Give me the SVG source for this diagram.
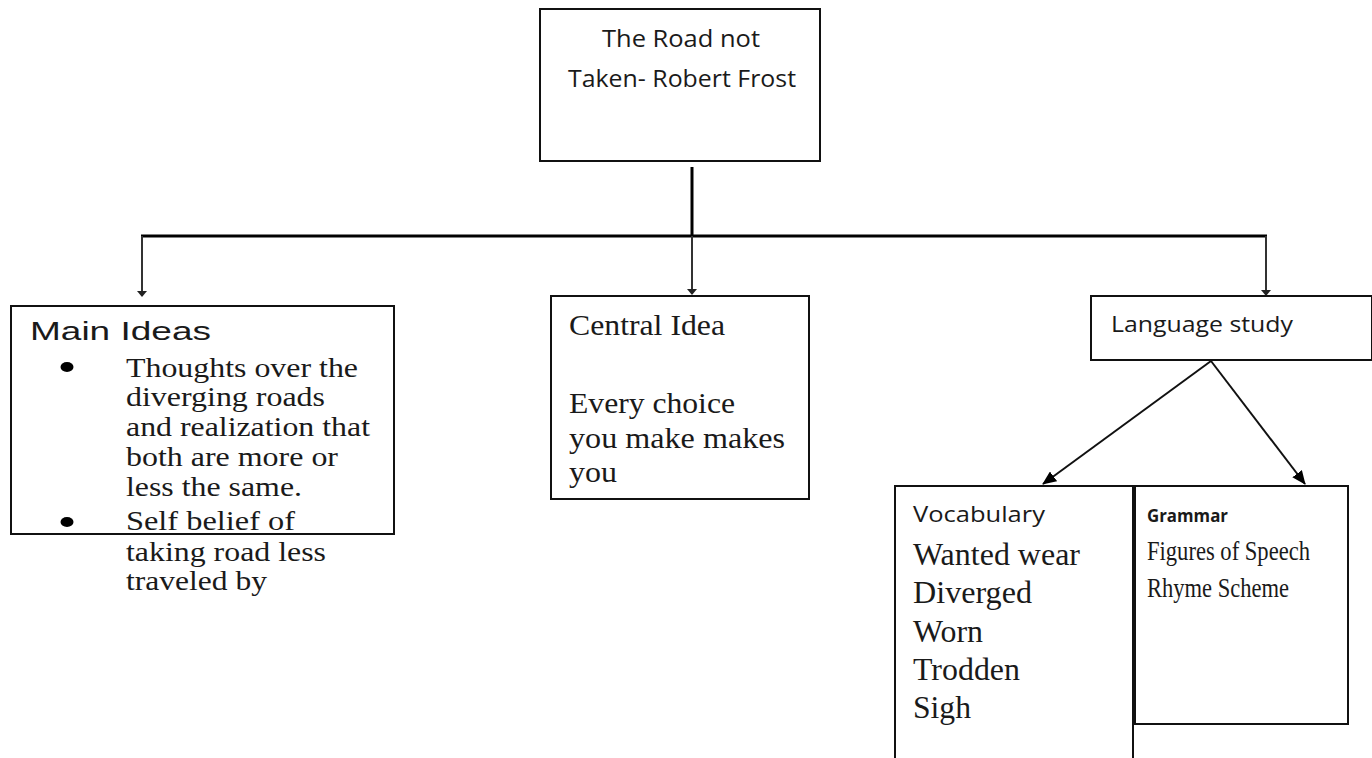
<svg xmlns="http://www.w3.org/2000/svg" width="1372" height="758" viewBox="0 0 1372 758">
  <style>
    .box { fill: #ffffff; stroke: #111111; stroke-width: 2; }
    .cal { font-family: "Open Sans", "Liberation Sans", sans-serif; fill: #1a1a1a; }
    .ari { font-family: "Liberation Sans", Arial, sans-serif; fill: #1a1a1a; }
    .tms { font-family: "Liberation Serif", "Times New Roman", serif; fill: #1a1a1a; }
    .drop { stroke: #333333; stroke-width: 2; fill: none; }
    .bar { stroke: #000000; stroke-width: 3; fill: none; }
    .arr { stroke: #111111; stroke-width: 2; fill: none; }
  </style>
  <defs>
    <marker id="tip-small" viewBox="0 0 6 10" refX="5" refY="5" markerWidth="6" markerHeight="10" markerUnits="userSpaceOnUse" orient="auto">
      <path d="M0,0 L6,5 L0,10 Z" fill="#222222"/>
    </marker>
    <marker id="tip" viewBox="0 0 14 12" refX="13" refY="6" markerWidth="14" markerHeight="12" markerUnits="userSpaceOnUse" orient="auto">
      <path d="M0,0 L14,6 L0,12 Z" fill="#000000"/>
    </marker>
  </defs>

  <rect width="1372" height="758" fill="#ffffff"/>

  <!-- connectors -->
  <g id="connectors">
    <line class="bar" x1="692" y1="167" x2="692" y2="236"/>
    <line class="bar" x1="141" y1="236" x2="1267" y2="236"/>
    <line class="drop" x1="142" y1="236" x2="142" y2="296" marker-end="url(#tip-small)"/>
    <line class="drop" x1="692" y1="236" x2="692" y2="294" marker-end="url(#tip-small)"/>
    <line class="drop" x1="1266" y1="236" x2="1266" y2="295" marker-end="url(#tip-small)"/>
    <line class="arr" x1="1211" y1="361" x2="1043" y2="484" marker-end="url(#tip)"/>
    <line class="arr" x1="1211" y1="361" x2="1305" y2="484" marker-end="url(#tip)"/>
  </g>

  <!-- root -->
  <g id="node-title">
    <rect class="box" x="540" y="9" width="280" height="152"/>
    <text class="cal" x="602" y="47" font-size="24" textLength="158" lengthAdjust="spacingAndGlyphs">The Road not</text>
    <text class="cal" x="568" y="87" font-size="24" textLength="228" lengthAdjust="spacingAndGlyphs">Taken- Robert Frost</text>
  </g>

  <!-- main ideas -->
  <g id="node-main-ideas">
    <rect class="box" x="11" y="306" width="383" height="228"/>
    <text class="ari" x="30" y="340" font-size="26" textLength="181" lengthAdjust="spacingAndGlyphs">Main Ideas</text>
    <ellipse cx="67" cy="367" rx="6.5" ry="5" fill="#000000"/>
    <ellipse cx="67" cy="522" rx="6.5" ry="5" fill="#000000"/>
    <g class="tms" font-size="28">
      <text x="126" y="377" textLength="232" lengthAdjust="spacingAndGlyphs">Thoughts over the</text>
      <text x="126" y="406" textLength="199" lengthAdjust="spacingAndGlyphs">diverging roads</text>
      <text x="126" y="436" textLength="244" lengthAdjust="spacingAndGlyphs">and realization that</text>
      <text x="126" y="466" textLength="212" lengthAdjust="spacingAndGlyphs">both are more or</text>
      <text x="126" y="496" textLength="176" lengthAdjust="spacingAndGlyphs">less the same.</text>
      <text x="126" y="530" textLength="169" lengthAdjust="spacingAndGlyphs">Self belief of</text>
      <text x="126" y="561" textLength="200" lengthAdjust="spacingAndGlyphs">taking road less</text>
      <text x="126" y="590" textLength="141" lengthAdjust="spacingAndGlyphs">traveled by</text>
    </g>
  </g>

  <!-- central idea -->
  <g id="node-central-idea">
    <rect class="box" x="551" y="296" width="258" height="203"/>
    <g class="tms" font-size="30">
      <text x="569" y="335" textLength="156" lengthAdjust="spacingAndGlyphs">Central Idea</text>
      <text x="569" y="413" textLength="166" lengthAdjust="spacingAndGlyphs">Every choice</text>
      <text x="569" y="448" textLength="216" lengthAdjust="spacingAndGlyphs">you make makes</text>
      <text x="569" y="482" textLength="48" lengthAdjust="spacingAndGlyphs">you</text>
    </g>
  </g>

  <!-- language study -->
  <g id="node-language-study">
    <rect class="box" x="1091" y="296" width="281" height="64"/>
    <text class="cal" x="1111" y="332" font-size="21" textLength="182" lengthAdjust="spacingAndGlyphs">Language study</text>
  </g>

  <!-- vocabulary -->
  <g id="node-vocabulary">
    <rect class="box" x="895" y="486" width="238" height="290"/>
    <text class="cal" x="913" y="522" font-size="21" textLength="132" lengthAdjust="spacingAndGlyphs">Vocabulary</text>
    <g class="tms" font-size="31">
      <text x="913" y="565" textLength="167" lengthAdjust="spacingAndGlyphs">Wanted wear</text>
      <text x="913" y="603" textLength="119" lengthAdjust="spacingAndGlyphs">Diverged</text>
      <text x="913" y="642" textLength="70" lengthAdjust="spacingAndGlyphs">Worn</text>
      <text x="913" y="680" textLength="107" lengthAdjust="spacingAndGlyphs">Trodden</text>
      <text x="913" y="718" textLength="58" lengthAdjust="spacingAndGlyphs">Sigh</text>
    </g>
  </g>

  <!-- grammar -->
  <g id="node-grammar">
    <rect class="box" x="1135" y="486" width="213" height="238"/>
    <text class="cal" x="1147" y="522" font-size="18" font-weight="bold" textLength="81" lengthAdjust="spacingAndGlyphs">Grammar</text>
    <g class="tms" font-size="28" fill="#2a2a2a">
      <text x="1147" y="560" textLength="163" lengthAdjust="spacingAndGlyphs">Figures of Speech</text>
      <text x="1147" y="597" textLength="142" lengthAdjust="spacingAndGlyphs">Rhyme Scheme</text>
    </g>
  </g>
</svg>
